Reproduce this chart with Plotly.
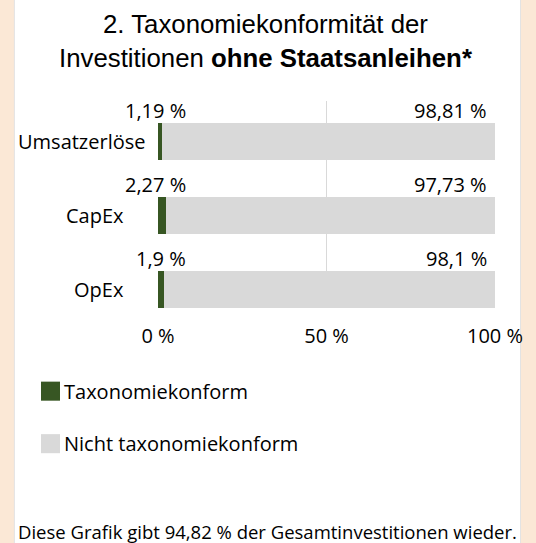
import plotly.graph_objects as go

# ---- data ----
categories = ["Umsatzerlöse", "CapEx", "OpEx"]
taxonomy_aligned = [1.19, 2.27, 1.9]
not_aligned = [98.81, 97.73, 98.1]
series_names = ["Taxonomiekonform", "Nicht taxonomiekonform"]
x_tick_vals = [0, 50, 100]
x_tick_text = ["0 %", "50 %", "100 %"]
title_line1 = "2. Taxonomiekonformität der"
title_line2 = "Investitionen <b>ohne Staatsanleihen*</b>"
footer_text = "Diese Grafik gibt 94,82 % der Gesamtinvestitionen wieder."

# ---- style ----
W, H = 536, 543
GREEN = "#375623"
GREY = "#D9D9D9"
BEIGE = "#FBE8D6"
BODY_FONT = "Open Sans"
TITLE_FONT = "Liberation Sans, Arial"
PX_L, PX_R = 158, 495       # plot area in pixels
PX_T, PX_B = 101, 307.6


def px_x(px):
    return (px - PX_L) / (PX_R - PX_L)


def px_y(py):
    return (PX_B - py) / (PX_B - PX_T)


def fmt(v):
    return f"{v:g}".replace(".", ",") + " %"


fig = go.Figure()
fig.add_trace(go.Bar(y=categories, x=taxonomy_aligned, orientation="h",
                     name=series_names[0], marker=dict(color=GREEN, line_width=0),
                     width=0.5, showlegend=False, hoverinfo="skip"))
fig.add_trace(go.Bar(y=categories, x=not_aligned, orientation="h",
                     name=series_names[1], marker=dict(color=GREY, line_width=0),
                     width=0.5, showlegend=False, hoverinfo="skip"))

annotations = []
# data labels above bars
for cat, a, n in zip(categories, taxonomy_aligned, not_aligned):
    annotations.append(dict(x=px_x(188), xref="paper", y=cat, yref="y", yshift=31.5,
                            text=fmt(a), showarrow=False, xanchor="right", yanchor="middle",
                            font=dict(family=BODY_FONT, size=20, color="#000000")))
    annotations.append(dict(x=px_x(489), xref="paper", y=cat, yref="y", yshift=31.5,
                            text=fmt(n), showarrow=False, xanchor="right", yanchor="middle",
                            font=dict(family=BODY_FONT, size=20, color="#000000")))
# category labels
label_right_px = [147.7, 125.8, 125.8]
for cat, rpx in zip(categories, label_right_px):
    annotations.append(dict(x=px_x(rpx), xref="paper", y=cat, yref="y",
                            text=cat, showarrow=False, xanchor="right", yanchor="middle",
                            font=dict(family=BODY_FONT, size=20, color="#000000")))
# title
annotations.append(dict(x=px_x(266), xref="paper", y=px_y(41.5), yref="paper",
                        text=title_line1 + "<br>" + title_line2, showarrow=False,
                        xanchor="center", yanchor="middle", align="center",
                        font=dict(family=TITLE_FONT, size=25.8, color="#000000")))
# legend (custom)
shapes = []
legend_rows = [(series_names[0], GREEN, 390.6), (series_names[1], GREY, 443)]
for name, col, cy in legend_rows:
    shapes.append(dict(type="rect", xref="paper", yref="paper",
                       x0=px_x(41), x1=px_x(60), y0=px_y(cy - 9.5), y1=px_y(cy + 9.5),
                       fillcolor=col, line_width=0, layer="above"))
    annotations.append(dict(x=px_x(62), xref="paper", y=px_y(cy), yref="paper",
                            text=name, showarrow=False, xanchor="left", yanchor="middle",
                            font=dict(family=BODY_FONT, size=20, color="#000000")))
# footer
annotations.append(dict(x=px_x(267.5), xref="paper", y=px_y(530.5), yref="paper",
                        text=footer_text, showarrow=False, xanchor="center", yanchor="middle",
                        borderpad=0,
                        font=dict(family=BODY_FONT, size=18.5, color="#000000")))

# white panel
shapes.insert(0, dict(type="rect", xref="paper", yref="paper",
                      x0=px_x(14.4), x1=px_x(520.5), y0=px_y(H + 5), y1=px_y(-5),
                      fillcolor="#FFFFFF", line=dict(color="#E3E3E3", width=1), layer="below"))

fig.update_layout(
    width=W, height=H, barmode="stack",
    margin=dict(l=PX_L, r=W - PX_R, t=PX_T, b=H - PX_B, pad=0),
    paper_bgcolor=BEIGE, plot_bgcolor="rgba(0,0,0,0)",
    bargap=0.5,
    xaxis=dict(range=[0, 100], tickvals=x_tick_vals, ticktext=x_tick_text,
               showgrid=True, gridcolor=GREY, gridwidth=1, zeroline=False,
               showline=False, ticks="", ticklabelstandoff=14,
               tickfont=dict(family=BODY_FONT, size=20, color="#000000"),
               fixedrange=True),
    yaxis=dict(categoryorder="array", categoryarray=categories[::-1],
               range=[-0.248, 2.551], showticklabels=False, showgrid=False,
               zeroline=False, showline=False, ticks="", fixedrange=True),
    annotations=annotations, shapes=shapes,
    font=dict(family=BODY_FONT, color="#000000"),
)

fig.write_html("out.html", config={"displayModeBar": False},
               post_script="document.body.style.margin='0';document.body.style.overflow='hidden';")
